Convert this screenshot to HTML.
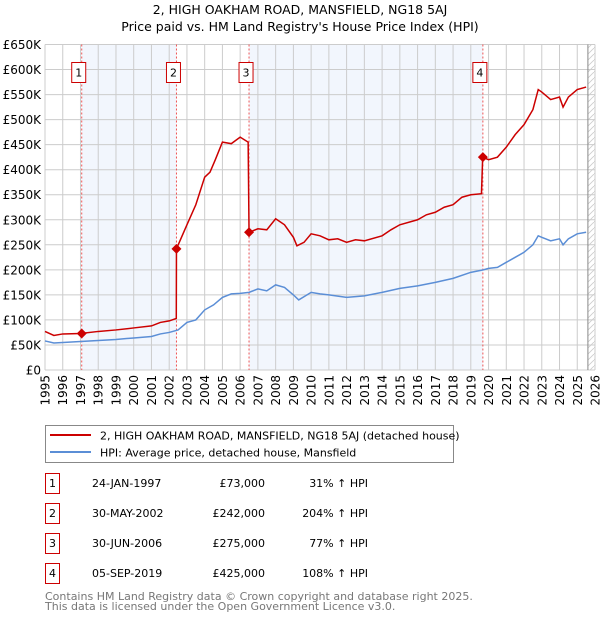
<!DOCTYPE html>
<html><head><meta charset="utf-8"><style>
body{margin:0;background:#fff;font-family:"DejaVu Sans","Liberation Sans",sans-serif;}
svg text{font-family:"DejaVu Sans","Liberation Sans",sans-serif;}
</style></head><body>
<svg id="chart" width="600" height="620" xmlns="http://www.w3.org/2000/svg">
<text x="300" y="14" text-anchor="middle" font-size="12.5" fill="#000">2, HIGH OAKHAM ROAD, MANSFIELD, NG18 5AJ</text>
<text x="300" y="31" text-anchor="middle" font-size="12.5" fill="#000">Price paid vs. HM Land Registry's House Price Index (HPI)</text>
<g id="plot"></g>
<g>
<rect x="45.5" y="425.5" width="408" height="37" fill="#fff" stroke="#888"/>
<line x1="50" y1="435" x2="91" y2="435" stroke="#cc0000" stroke-width="2"/>
<text x="100" y="439.5" font-size="11">2, HIGH OAKHAM ROAD, MANSFIELD, NG18 5AJ (detached house)</text>
<line x1="50" y1="452" x2="91" y2="452" stroke="#5b8ed6" stroke-width="2"/>
<text x="100" y="456.5" font-size="11">HPI: Average price, detached house, Mansfield</text>
</g>
<g id="table" font-size="11"></g>
<text x="45" y="600" font-size="11" fill="#777">Contains HM Land Registry data © Crown copyright and database right 2025.</text>
<text x="45" y="610" font-size="11" fill="#777">This data is licensed under the Open Government Licence v3.0.</text>
</svg>
<script>
const hpiYears=[1995,1995.5,1996,1997,1998,1999,2000,2001,2001.5,2002,2002.5,2003,2003.5,2004,2004.5,2005,2005.5,2006,2006.5,2007,2007.5,2008,2008.5,2009,2009.3,2010,2010.5,2011,2012,2013,2014,2015,2016,2017,2018,2019,2019.7,2020,2020.5,2021,2021.5,2022,2022.5,2022.8,2023,2023.5,2024,2024.2,2024.5,2025,2025.5];
const hpiValues=[58,54,55,57,59,61,64,67,72,75,80,95,100,120,130,145,152,153,155,162,158,170,165,150,140,155,152,150,145,148,155,163,168,175,183,195,200,203,205,215,225,235,250,268,265,258,262,250,262,272,275];
const propYears=[1995,1995.5,1996,1997,1998,1999,2000,2001,2001.5,2002,2002.4,2002.41,2003,2003.5,2004,2004.3,2004.6,2005,2005.5,2006,2006.45,2006.5,2007,2007.5,2008,2008.5,2009,2009.2,2009.6,2010,2010.5,2011,2011.5,2012,2012.5,2013,2014,2014.5,2015,2016,2016.5,2017,2017.5,2018,2018.5,2019,2019.6,2019.67,2020,2020.5,2021,2021.5,2022,2022.5,2022.8,2023,2023.5,2024,2024.2,2024.5,2025,2025.5];
const propValues=[77,69,72,73,77,80,84,88,95,98,103,242,290,330,385,395,420,455,452,465,455,275,282,280,302,290,265,248,255,272,268,260,262,255,260,258,268,280,290,300,310,315,325,330,345,350,352,425,420,425,445,470,490,520,560,555,540,545,525,545,560,565];
const saleYears=[1997.07,2002.41,2006.5,2019.68];
const saleValues=[73,242,275,425];
const saleLabels=["1","2","3","4"];
const saleDates=["24-JAN-1997","30-MAY-2002","30-JUN-2006","05-SEP-2019"];
const salePrices=["£73,000","£242,000","£275,000","£425,000"];
const saleHpi=["31% ↑ HPI","204% ↑ HPI","77% ↑ HPI","108% ↑ HPI"];
const yTicks=[0,50,100,150,200,250,300,350,400,450,500,550,600,650];
const yTickLabels=["£0","£50K","£100K","£150K","£200K","£250K","£300K","£350K","£400K","£450K","£500K","£550K","£600K","£650K"];
const xTicks=[1995,1996,1997,1998,1999,2000,2001,2002,2003,2004,2005,2006,2007,2008,2009,2010,2011,2012,2013,2014,2015,2016,2017,2018,2019,2020,2021,2022,2023,2024,2025,2026];
const dataEnd=2025.6;

const X0=45,X1=595,Y0=370,Y1=44.5;
const xs=y=>X0+(y-1995)/31*(X1-X0);
const ys=v=>Y0-v/650*(Y0-Y1);
const NS="http://www.w3.org/2000/svg";
const plot=document.getElementById('plot');
function mk(tag,attrs,parent){const e=document.createElementNS(NS,tag);for(const k in attrs)e.setAttribute(k,attrs[k]);(parent||plot).appendChild(e);return e;}

const bg=mk('rect',{x:X0,y:Y1,width:X1-X0,height:Y0-Y1,fill:'#fff'});


for(let i=0;i<saleYears.length;i+=2){
  const x1=xs(saleYears[i]);const x2=xs(saleYears[i+1]);
  const r=mk('rect',{x:x1,y:Y1,width:x2-x1,height:Y0-Y1,fill:'#f2f6fd'});
  
  
}
const defs=mk('defs',{});
const pat=mk('pattern',{id:'hatch',width:6,height:6,patternUnits:'userSpaceOnUse'},defs);
mk('path',{d:'M0,6 L6,0',stroke:'#ccc','stroke-width':0.8},pat);
const hr=mk('rect',{x:xs(dataEnd),y:Y1,width:X1-xs(dataEnd),height:Y0-Y1,fill:'url(#hatch)'});


yTicks.forEach((v,i)=>{
  const l=mk('line',{x1:X0,x2:X1,y1:ys(v),y2:ys(v),stroke:'#ccc','stroke-width':1});
  
  
  const t=mk('text',{x:41,y:ys(v)+4.5,'text-anchor':'end','font-size':12,fill:'#000'});
  t.textContent=yTickLabels[i];
  
  
});
xTicks.forEach(yr=>{
  const l=mk('line',{x1:xs(yr),x2:xs(yr),y1:Y1,y2:Y0,stroke:'#ccc','stroke-width':1});
  
  
  const t=mk('text',{x:0,y:0,'text-anchor':'end','font-size':12,fill:'#000',transform:`translate(${xs(yr)+4.5},375) rotate(-90)`});
  t.textContent=yr;
  
  
});
const el=mk('line',{x1:xs(dataEnd),x2:xs(dataEnd),y1:Y1,y2:Y0,stroke:'#888','stroke-width':1});


saleYears.forEach((yr,i)=>{
  const l=mk('line',{x1:xs(yr),x2:xs(yr),y1:Y1,y2:Y0,stroke:'#e55','stroke-width':1,'stroke-dasharray':'2,2'});
  
  
  const cx=xs(yr)-3;
  const bx=mk('rect',{x:cx-7,y:62.5,width:14,height:20,fill:'#fff',stroke:'#c00'});
  
  
  const t=mk('text',{x:cx,y:76.5,'text-anchor':'middle','font-size':11});
  t.textContent=saleLabels[i];
  
  
});
const hp=mk('polyline',{points:hpiYears.map((y,i)=>xs(y)+','+ys(hpiValues[i])).join(' '),fill:'none',stroke:'#5b8ed6','stroke-width':1.5});


const pp=mk('polyline',{points:propYears.map((y,i)=>xs(y)+','+ys(propValues[i])).join(' '),fill:'none',stroke:'#cc0000','stroke-width':1.5});


saleYears.forEach((yr,i)=>{
  const cx=xs(yr),cy=ys(saleValues[i]);
  const d=mk('path',{d:`M${cx},${cy-5}L${cx+5},${cy}L${cx},${cy+5}L${cx-5},${cy}Z`,fill:'#cc0000'});
  
  
});
const tb=document.getElementById('table');
saleLabels.forEach((lab,i)=>{
  const y=473+i*30;
  const r=mk('rect',{x:45.5,y:y+0.5,width:14,height:20,fill:'#fff',stroke:'#c00'},tb);
  
  
  const cells=[[52.5,lab,'middle'],[92,saleDates[i],'start'],[265,salePrices[i],'end'],[368,saleHpi[i],'end']];
  cells.forEach(c=>{
    const t=mk('text',{x:c[0],y:y+14,'text-anchor':c[2],'font-size':11},tb);
    t.textContent=c[1];
    
    
  });
});
</script>
</body></html>
